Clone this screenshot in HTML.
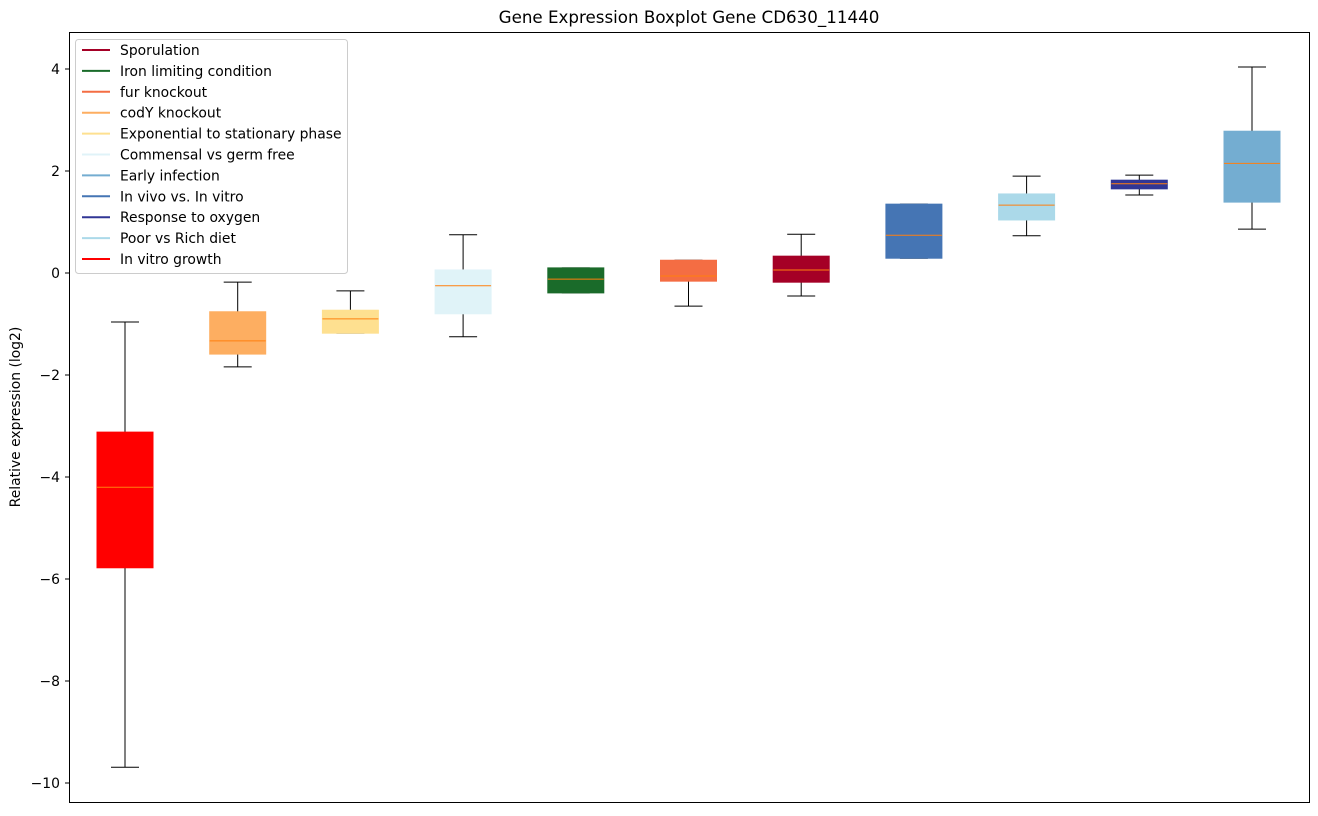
<!DOCTYPE html>
<html><head><meta charset="utf-8"><style>
body{margin:0;background:#fff;font-family:"DejaVu Sans","Liberation Sans",sans-serif}
</style></head><body>
<svg id="chart" width="1318" height="812" xmlns="http://www.w3.org/2000/svg" font-family="DejaVu Sans, Liberation Sans, sans-serif">
<rect width="1318" height="812" fill="#fff"/>
<text x="689" y="23" text-anchor="middle" font-size="16.7">Gene Expression Boxplot Gene CD630_11440</text>
<text transform="translate(20,417) rotate(-90)" text-anchor="middle" font-size="13.9">Relative expression (log2)</text>
<g id="marks"></g>
<g id="yticks"></g>
<rect x="69.5" y="32.5" width="1240" height="770" fill="none" stroke="#000" stroke-width="1"/>
<g id="legend"></g>
</svg>
<script>
const groups=["In vitro growth","codY knockout","Exponential to stationary phase","Commensal vs germ free","Iron limiting condition","fur knockout","Sporulation","In vivo vs. In vitro","Poor vs Rich diet","Response to oxygen","Early infection"];
const colors=["#ff0000","#fdae61","#fee090","#e0f3f8","#1a6b2a","#f46d43","#a50026","#4575b4","#abd9e9","#313695","#74add1"];
const lows=[-9.69,-1.84,-1.18,-1.25,-0.39,-0.65,-0.45,0.29,0.73,1.53,0.86];
const q1s=[-5.78,-1.59,-1.18,-0.8,-0.39,-0.16,-0.18,0.29,1.04,1.65,1.39];
const medians=[-4.2,-1.33,-0.9,-0.25,-0.12,-0.06,0.06,0.74,1.33,1.75,2.15];
const q3s=[-3.12,-0.76,-0.73,0.06,0.1,0.25,0.33,1.35,1.55,1.82,2.78];
const highs=[-0.96,-0.18,-0.35,0.75,0.1,0.25,0.76,1.35,1.9,1.92,4.04];
const yTicks=[4,2,0,-2,-4,-6,-8,-10];
const legendLabels=["Sporulation","Iron limiting condition","fur knockout","codY knockout","Exponential to stationary phase","Commensal vs germ free","Early infection","In vivo vs. In vitro","Response to oxygen","Poor vs Rich diet","In vitro growth"];
const legendColors=["#a50026","#1a6b2a","#f46d43","#fdae61","#fee090","#e0f3f8","#74add1","#4575b4","#313695","#abd9e9","#ff0000"];
const NS="http://www.w3.org/2000/svg";
const y=v=>273-51*v;
const x=i=>125+i*112.7;
function mk(t,a,p){const e=document.createElementNS(NS,t);for(const k in a)e.setAttribute(k,a[k]);p.appendChild(e);return e;}
const marks=document.getElementById('marks');
groups.forEach((g,i)=>{
 const cx=x(i),w=56;
 const grp=mk('g',{},marks);
 
 
 mk('line',{x1:cx,x2:cx,y1:y(highs[i]),y2:y(q3s[i]),stroke:'#000'},grp);
 mk('line',{x1:cx,x2:cx,y1:y(q1s[i]),y2:y(lows[i]),stroke:'#000'},grp);
 mk('line',{x1:cx-14,x2:cx+14,y1:y(highs[i]),y2:y(highs[i]),stroke:'#000'},grp);
 mk('line',{x1:cx-14,x2:cx+14,y1:y(lows[i]),y2:y(lows[i]),stroke:'#000'},grp);
 mk('rect',{x:cx-w/2,y:y(q3s[i]),width:w,height:Math.max(1,y(q1s[i])-y(q3s[i])),fill:colors[i],stroke:colors[i]},grp);
 mk('line',{x1:cx-w/2,x2:cx+w/2,y1:y(medians[i]),y2:y(medians[i]),stroke:'#ff7f0e','stroke-width':1},grp);
});
const yt=document.getElementById('yticks');
yTicks.forEach(v=>{
 const t=mk('g',{},yt);
 
 
 mk('line',{x1:65,x2:69,y1:y(v),y2:y(v),stroke:'#000'},t);
 const tx=mk('text',{x:60,y:y(v)+5,'text-anchor':'end','font-size':13.9},t);
 tx.textContent=v<0?'\u2212'+(-v):String(v);
});
const lg=document.getElementById('legend');
const lb=mk('rect',{x:75.5,y:39.5,width:272,height:234,rx:3,fill:'#fff','fill-opacity':0.8,stroke:'#ccc'},lg);


legendLabels.forEach((l,i)=>{
 const e=mk('g',{},lg);
 
 
 const yy=50+i*20.9;
 mk('line',{x1:82,x2:110,y1:yy,y2:yy,stroke:legendColors[i],'stroke-width':2},e);
 const t=mk('text',{x:120,y:yy+5,'font-size':13.9},e);
 t.textContent=l;
});
</script>
</body></html>
